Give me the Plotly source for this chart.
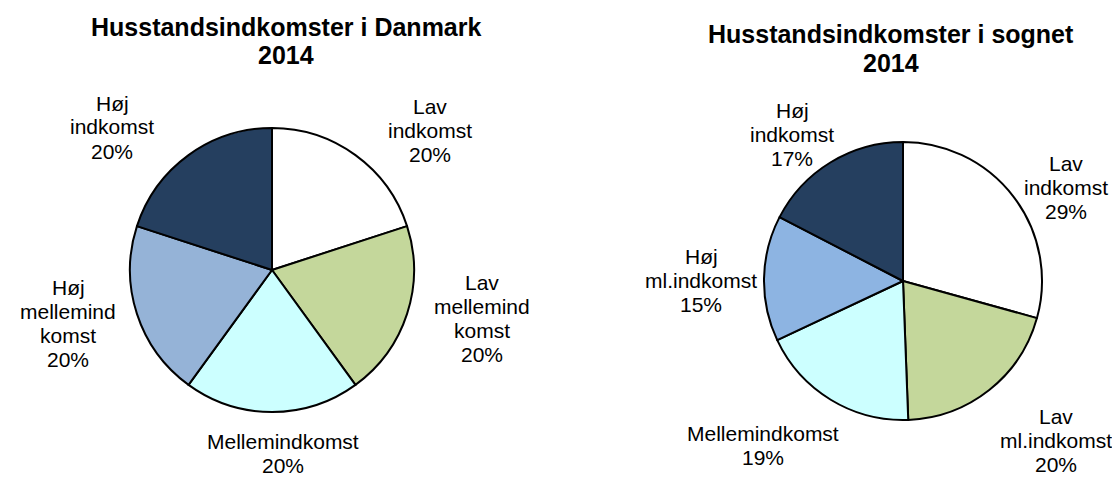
import plotly.graph_objects as go

# ---- data ----
categories_dk = ["Lav indkomst", "Lav mellemindkomst", "Mellemindkomst",
                 "Høj mellemindkomst", "Høj indkomst"]
values_dk = [20, 20, 20, 20, 20]
labels_dk = [["Lav", "indkomst"], ["Lav", "mellemind", "komst"], ["Mellemindkomst"],
             ["Høj", "mellemind", "komst"], ["Høj", "indkomst"]]

categories_sogn = ["Lav indkomst", "Lav ml.indkomst", "Mellemindkomst",
                   "Høj ml.indkomst", "Høj indkomst"]
values_sogn = [29.3, 20.1, 18.6, 14.6, 17.4]
labels_sogn = [["Lav", "indkomst"], ["Lav", "ml.indkomst"], ["Mellemindkomst"],
               ["Høj", "ml.indkomst"], ["Høj", "indkomst"]]

title_dk = ["Husstandsindkomster i Danmark", "2014"]
title_sogn = ["Husstandsindkomster i sognet", "2014"]

# ---- layout / style ----
OFF = 0  # page body margin removed via post_script
W, H = 1112, 477
colors_dk = ["#FFFFFF", "#C4D79B", "#CCFFFF", "#95B3D7", "#253F5F"]
colors_sogn = ["#FFFFFF", "#C4D79B", "#CCFFFF", "#8DB4E2", "#253F5F"]

# label block centres in page pixels (text placement only)
labelpos_dk = [(430, 130), (482, 318), (283, 453), (68, 323), (112, 127)]
labelpos_sogn = [(1066, 187), (1056, 440), (763, 445), (701, 280), (792, 134)]
LBL_SPACING = 24
TTL_SPACING = 28


def fx(px):
    return (px - OFF) / W


def fy(py):
    return 1 - (py - OFF) / H


def px_dom(x0, x1, y0, y1):
    return dict(x=[fx(x0), fx(x1)], y=[fy(y1), fy(y0)])


fig = go.Figure()
fig.add_trace(go.Pie(
    labels=categories_dk, values=values_dk, sort=False, direction="clockwise",
    rotation=0, textinfo="none", hoverinfo="label+percent",
    marker=dict(colors=colors_dk, line=dict(color="#000000", width=2)),
    domain=px_dom(130, 414, 128, 412), showlegend=False,
))
fig.add_trace(go.Pie(
    labels=categories_sogn, values=values_sogn, sort=False, direction="clockwise",
    rotation=0, textinfo="none", hoverinfo="label+percent",
    marker=dict(colors=colors_sogn, line=dict(color="#000000", width=2)),
    domain=px_dom(764, 1042, 142, 420), showlegend=False,
))

annotations = []
FAM = "Liberation Sans, Arial, sans-serif"


def add_block(lines, cx, cy, spacing, font):
    n = len(lines)
    for i, ln in enumerate(lines):
        y = cy + (i - (n - 1) / 2) * spacing
        annotations.append(dict(
            text=ln, x=fx(cx), y=fy(y), xref="paper", yref="paper",
            xanchor="center", yanchor="middle", showarrow=False, align="center",
            font=font,
        ))


font_lbl = dict(family=FAM, size=21, color="#000000")
for vals, labs, pos in [(values_dk, labels_dk, labelpos_dk),
                        (values_sogn, labels_sogn, labelpos_sogn)]:
    tot = sum(vals)
    for v, lab, (px, py) in zip(vals, labs, pos):
        pct = round(100 * v / tot)
        add_block(lab + [f"{pct}%"], px, py, LBL_SPACING, font_lbl)

font_title = dict(family=FAM, size=25, color="#000000")
add_block([f"<b>{t}</b>" for t in title_dk], 286, 41, TTL_SPACING, font_title)
add_block([f"<b>{t}</b>" for t in title_sogn], 891, 48.5, TTL_SPACING, font_title)

fig.update_layout(
    width=W, height=H, margin=dict(l=0, r=0, t=0, b=0),
    paper_bgcolor="#FFFFFF", plot_bgcolor="#FFFFFF",
    annotations=annotations,
)
fig.write_html(
    "out.html",
    config={"displayModeBar": False},
    post_script="document.body.style.margin='0';document.body.style.overflow='hidden';",
)
